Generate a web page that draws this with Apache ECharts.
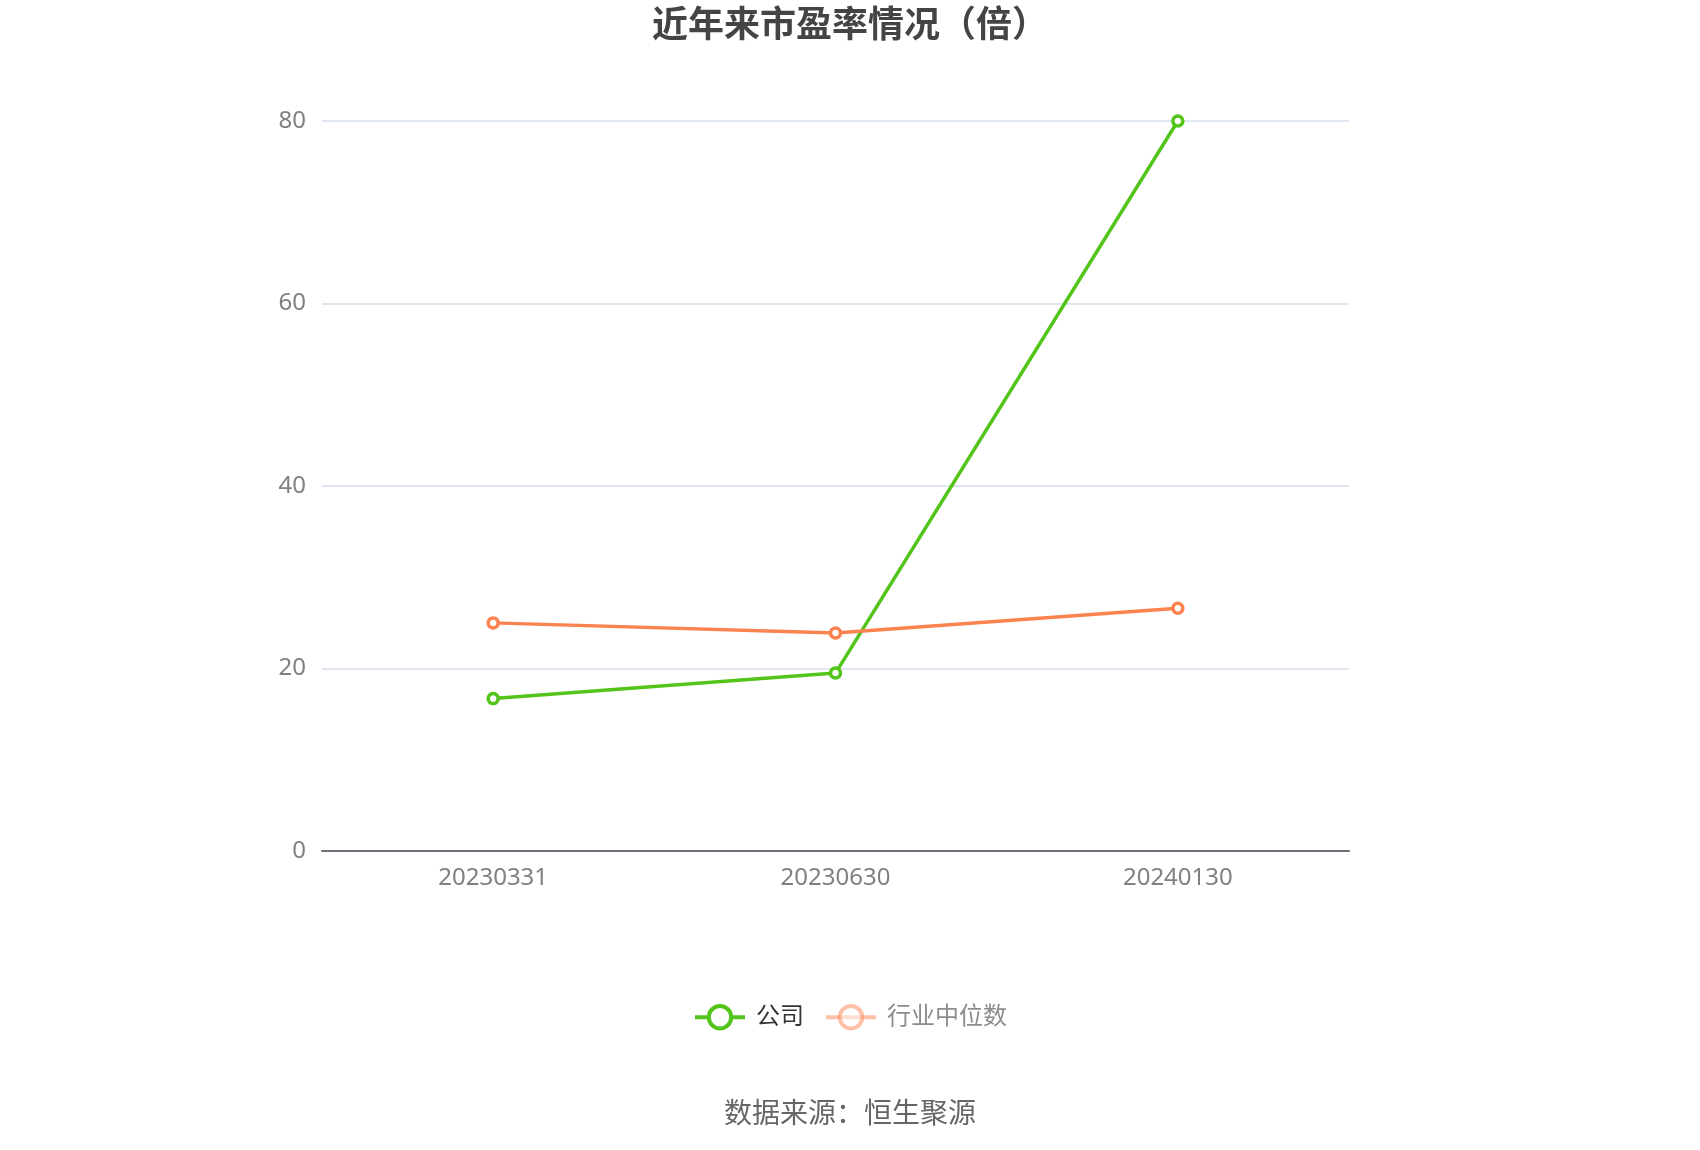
<!DOCTYPE html>
<html>
<head>
<meta charset="utf-8">
<script src="https://cdn.jsdelivr.net/npm/echarts@6/dist/echarts.min.js"></script>
<style>
html,body{margin:0;padding:0;background:#fff;}
#main{width:1700px;height:1150px;}
</style>
</head>
<body>
<div id="main"></div>
<script>
const titleText = '近年来市盈率情况（倍）';
const sourceText = '数据来源：恒生聚源';
const categories = ['20230331', '20230630', '20240130'];
const companyName = '公司';
const companyValues = [16.7, 19.5, 80.0];
const industryName = '行业中位数';
const industryValues = [25.0, 23.9, 26.6];
const yTicks = [0, 20, 40, 60, 80];

const FONT = '"Noto Sans", "Noto Sans CJK SC", sans-serif';
const GREEN = '#52c41a';
const ORANGE = '#fb8350';

const chart = echarts.init(document.getElementById('main'));
chart.setOption({
  backgroundColor: '#ffffff',
  animation: false,
  title: {
    text: titleText,
    left: 'center',
    top: 4,
    textStyle: { fontSize: 36, fontWeight: 'bold', color: '#444444', fontFamily: FONT }
  },
  grid: { left: 322, right: 351, top: 121, bottom: 299, containLabel: false },
  legend: {
    top: 999,
    left: 'center',
    itemWidth: 50,
    itemHeight: 28,
    itemGap: 20,
    lineStyle: { width: 4 },
    itemStyle: { borderWidth: 4 },
    textStyle: { fontSize: 24, color: '#333333', fontFamily: FONT, padding: [0, 0, 0, 6] },
    data: [
      { name: companyName },
      { name: industryName, textStyle: { color: '#8c8c8c' }, itemStyle: { opacity: 0.5 }, lineStyle: { opacity: 0.5 } }
    ]
  },
  xAxis: {
    type: 'category',
    data: categories,
    axisLine: { lineStyle: { color: '#6e7079', width: 2 } },
    axisTick: { alignWithLabel: true, length: 6, lineStyle: { color: '#6e7079', width: 2 } },
    axisLabel: { fontSize: 24, color: '#808080', margin: 15, fontFamily: FONT }
  },
  yAxis: {
    type: 'value',
    min: yTicks[0],
    max: yTicks[yTicks.length - 1],
    interval: yTicks[1] - yTicks[0],
    axisLine: { show: false },
    axisTick: { show: false },
    axisLabel: { fontSize: 24, color: '#808080', margin: 16, fontFamily: FONT },
    splitLine: { lineStyle: { color: '#e0e6f1', width: 2 } }
  },
  series: [
    {
      name: companyName,
      type: 'line',
      data: companyValues,
      symbol: 'circle',
      symbolSize: 10,
      color: GREEN,
      lineStyle: { width: 3.5, color: GREEN },
      itemStyle: { color: '#ffffff', borderColor: GREEN, borderWidth: 3.5 }
    },
    {
      name: industryName,
      type: 'line',
      data: industryValues,
      symbol: 'circle',
      symbolSize: 10,
      color: ORANGE,
      lineStyle: { width: 3.5, color: ORANGE },
      itemStyle: { color: '#ffffff', borderColor: ORANGE, borderWidth: 3.5 }
    }
  ],
  graphic: [{
    type: 'text',
    left: 'center',
    top: 1101,
    style: { text: sourceText, fontSize: 28, fill: '#666666', fontFamily: FONT }
  }]
});
</script>
</body>
</html>
